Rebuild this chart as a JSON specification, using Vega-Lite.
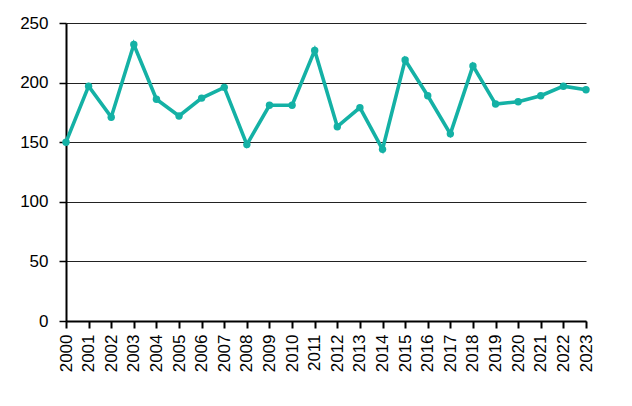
{
  "$schema": "https://vega.github.io/schema/vega-lite/v6.json",
  "autosize": "none",
  "width": 520,
  "height": 298,
  "padding": {"left": 66, "top": 23, "right": 46, "bottom": 85},
  "background": "white",
  "config": {"view": {"stroke": null}, "font": "Liberation Sans"},
  "data": {"values": [
    {"year": "2000", "value": 150},
    {"year": "2001", "value": 197},
    {"year": "2002", "value": 171},
    {"year": "2003", "value": 232},
    {"year": "2004", "value": 186},
    {"year": "2005", "value": 172},
    {"year": "2006", "value": 187},
    {"year": "2007", "value": 196},
    {"year": "2008", "value": 148},
    {"year": "2009", "value": 181},
    {"year": "2010", "value": 181},
    {"year": "2011", "value": 227},
    {"year": "2012", "value": 163},
    {"year": "2013", "value": 179},
    {"year": "2014", "value": 144},
    {"year": "2015", "value": 219},
    {"year": "2016", "value": 189},
    {"year": "2017", "value": 157},
    {"year": "2018", "value": 214},
    {"year": "2019", "value": 182},
    {"year": "2020", "value": 184},
    {"year": "2021", "value": 189},
    {"year": "2022", "value": 197},
    {"year": "2023", "value": 194}
  ]},
  "mark": {"type": "line", "color": "#14B1A5", "strokeWidth": 3.6, "point": {"filled": true, "size": 55, "color": "#14B1A5", "opacity": 1}},
  "encoding": {
    "x": {
      "field": "year", "type": "ordinal",
      "scale": {"type": "point", "padding": 0},
      "axis": {
        "title": null, "labelAngle": 270, "labelAlign": "right", "labelBaseline": "middle",
        "labelFontSize": 17, "labelColor": "black", "labelPadding": 6,
        "domainColor": "black", "domainWidth": 2, "tickColor": "black", "tickWidth": 2, "tickSize": 7,
        "grid": false
      }
    },
    "y": {
      "field": "value", "type": "quantitative",
      "scale": {"domain": [0, 250], "nice": false},
      "axis": {
        "title": null, "values": [0, 50, 100, 150, 200, 250],
        "labelFontSize": 17, "labelColor": "black", "labelPadding": 11,
        "domainColor": "black", "domainWidth": 2, "tickColor": "black", "tickWidth": 1.5, "tickSize": 7,
        "grid": true, "gridColor": "#222", "gridWidth": 1.2, "gridOpacity": 1
      }
    }
  }
}
